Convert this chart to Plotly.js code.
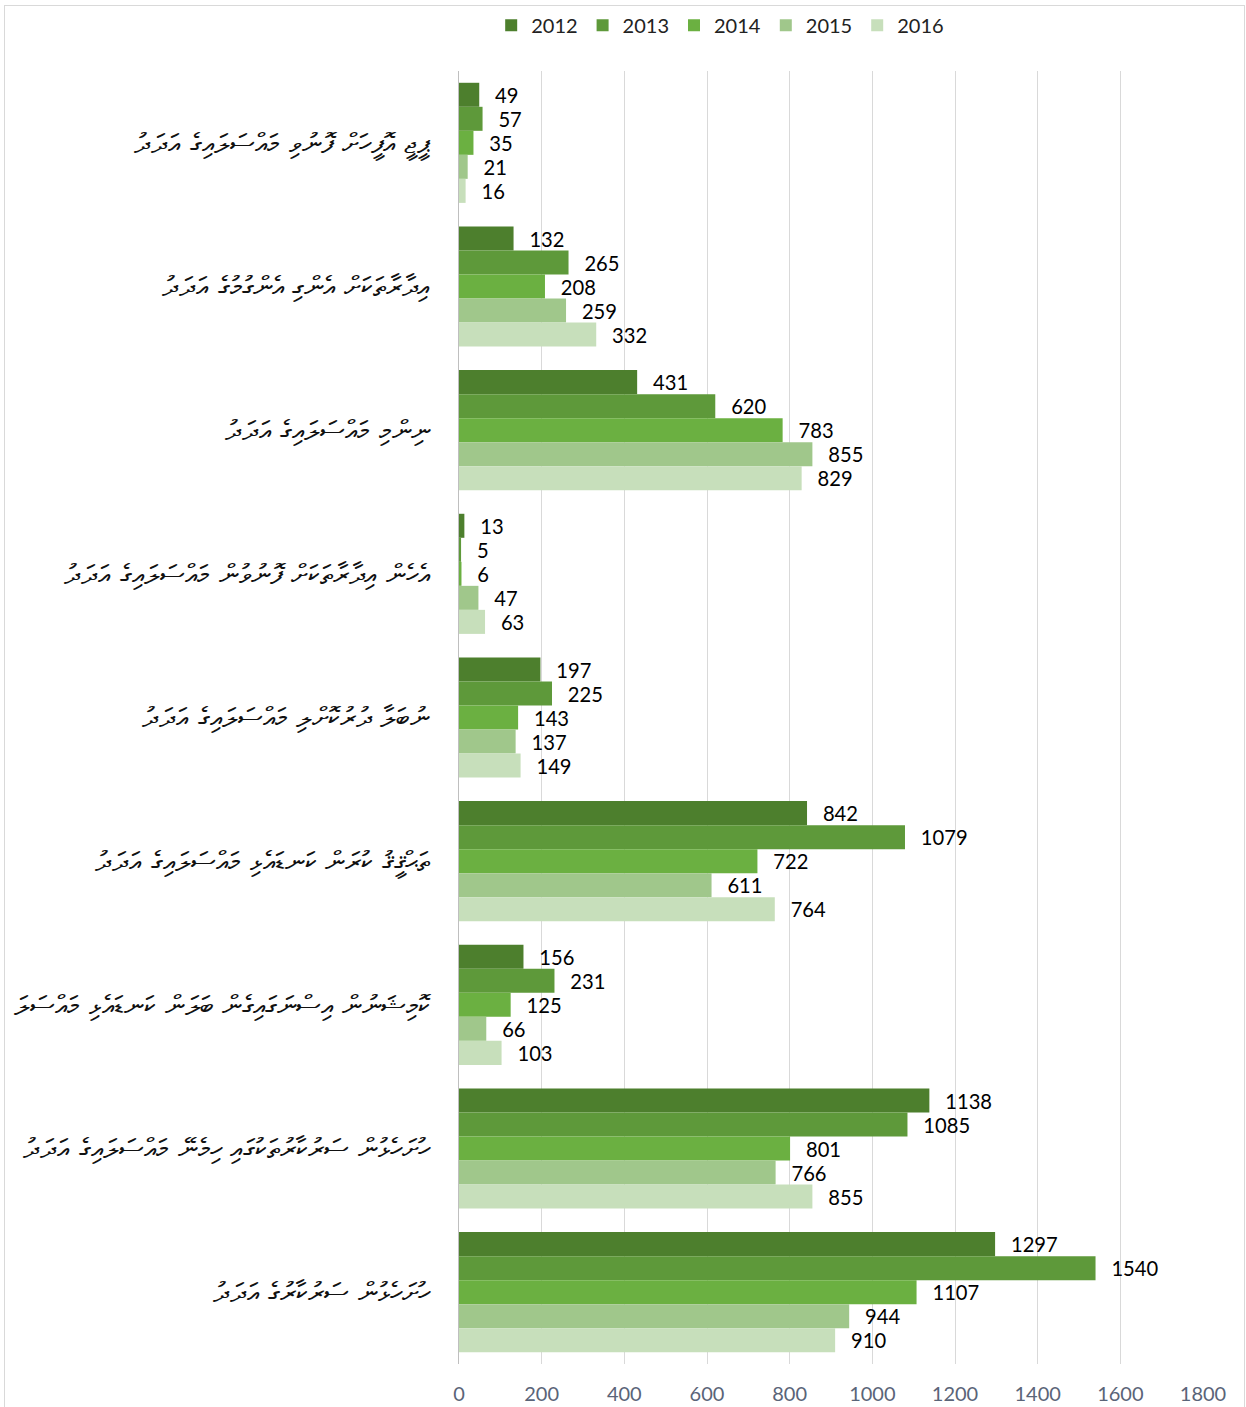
<!DOCTYPE html>
<html>
<head>
<meta charset="utf-8">
<script src="https://cdn.plot.ly/plotly-3.0.1.min.js"></script>
<style>
html,body{margin:0;padding:0;background:#fff;}
#wrap{position:relative;width:1246px;height:1407px;}
#chart{width:1246px;height:1407px;}
#frame{position:absolute;left:4px;top:5px;width:1239px;height:1410px;border:1px solid #d9d9d9;pointer-events:none;}
</style>
</head>
<body>
<div id="wrap"><div id="chart"></div><div id="frame"></div></div>
<script>
const categories = [
  "ޕީޖީ އޮފީހަށް ފޮނުވި މައްސަލައިގެ އަދަދު",
  "އިދާރާތަކަށް އެންގި އެންގުމުގެ އަދަދު",
  "ނިންމި މައްސަލައިގެ އަދަދު",
  "އެހެން އިދާރާތަކަށް ފޮނުވުން މައްސަލައިގެ އަދަދު",
  "ނުބަލާ ދުރުކޮށްލި މައްސަލައިގެ އަދަދު",
  "ތަޙްޤީޤު ކުރަން ކަނޑައެޅި މައްސަލައިގެ އަދަދު",
  "ކޮމިޝަނުން އިސްނަގައިގެން ބަލަން ކަނޑައެޅި މައްސަލަ",
  "ހުށަހެޅުން ސަރުކާރުތަކުގައި ހިމެނޭ މައްސަލައިގެ އަދަދު",
  "ހުށަހެޅުން ސަރުކާރުގެ އަދަދު"
];
const years = ["2012","2013","2014","2015","2016"];
const v2012 = [49, 132, 431, 13, 197, 842, 156, 1138, 1297];
const v2013 = [57, 265, 620, 5, 225, 1079, 231, 1085, 1540];
const v2014 = [35, 208, 783, 6, 143, 722, 125, 801, 1107];
const v2015 = [21, 259, 855, 47, 137, 611, 66, 766, 944];
const v2016 = [16, 332, 829, 63, 149, 764, 103, 855, 910];
const series = [v2012, v2013, v2014, v2015, v2016];
const colors = ["#4d7f2d", "#5e993a", "#6bb041", "#a0c78b", "#c7dfbb"];

const pad = "\u00a0\u00a0\u2009";
const traces = series.map((vals, i) => ({
  type: "bar",
  orientation: "h",
  name: years[i],
  y: categories,
  x: vals,
  text: vals.map(v => pad + String(v)),
  textposition: "outside",
  textfont: {family: "Lato, 'Open Sans', sans-serif", size: 21, color: "#000"},
  marker: {color: colors[i]},
  cliponaxis: false,
  hoverinfo: "x+name"
}));

const layout = {
  width: 1246,
  height: 1407,
  margin: {l: 459, r: 43, t: 71, b: 43, autoexpand: false},
  paper_bgcolor: "#fff",
  plot_bgcolor: "#fff",
  barmode: "group",
  bargap: 0.164,
  bargroupgap: 0,
  showlegend: true,
  legend: {
    orientation: "h",
    x: 0.578, xanchor: "center", xref: "container",
    y: 0.982, yanchor: "middle", yref: "container",
    font: {family: "Lato, 'Open Sans', sans-serif", size: 20, color: "#222"},
    itemwidth: 30,
    tracegroupgap: 0,
    traceorder: "normal"
  },
  xaxis: {
    range: [0, 1800],
    dtick: 200,
    tick0: 0,
    showgrid: true,
    gridcolor: "#d9d9d9",
    gridwidth: 1,
    zeroline: false,
    showline: false,
    ticks: "",
    ticklabelstandoff: 16,
    tickfont: {family: "Lato, 'Open Sans', sans-serif", size: 20, color: "#5a6478"},
    fixedrange: true
  },
  yaxis: {
    autorange: "reversed",
    showline: true,
    linecolor: "#bfbfbf",
    linewidth: 1,
    showgrid: false,
    zeroline: false,
    ticks: "",
    ticklabelstandoff: 22,
    tickfont: {family: "'DejaVu Sans', sans-serif", size: 28, color: "#111"},
    fixedrange: true
  },
  font: {family: "Lato, 'Open Sans', sans-serif"}
};

Plotly.newPlot("chart", traces, layout, {displayModeBar: false, staticPlot: true});
</script>
</body>
</html>
